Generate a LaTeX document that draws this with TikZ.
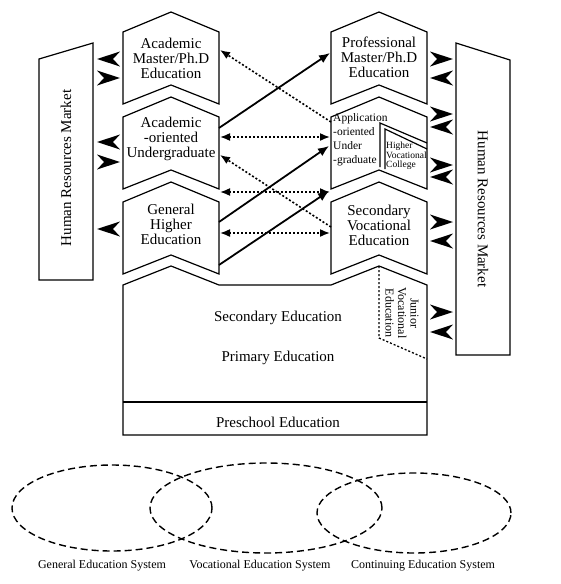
\documentclass[tikz,border=0pt]{standalone}
\usepackage{fontspec}
\setmainfont{Liberation Serif}
\usetikzlibrary{arrows.meta}

\begin{document}
\begin{tikzpicture}[
    x=1pt, y=-1pt,
    % Styles
    block/.style={line width=1.2pt, draw=black, line join=miter},        % education stages
    market/.style={line width=1.2pt, draw=black},                        % labour market
    flow/.style={line width=1.8pt, -{Latex[length=11pt,width=9pt]}},    % progression
    link/.style={line width=1.6pt, dash pattern=on 2pt off 2pt},         % transfer
    bigtip/.style={fill=black},                                          % supply / demand
    sysring/.style={line width=1.4pt, dash pattern=on 7pt off 4pt},     % systems
    txt/.style={font=\fontsize{15}{15}\selectfont, align=center, inner sep=0pt}
]
  \useasboundingbox (0,0) rectangle (560,584);

  % Human resources markets
  \draw[market] (39,59) -- (93,43) -- (93,280) -- (39,280) -- cycle;
  \node[txt, rotate=90] (hrmL) at (66,168) {Human Resources Market};
  \draw[market] (456,43) -- (510,60) -- (510,355) -- (456,355) -- cycle;
  \node[txt, rotate=-90] (hrmR) at (483,209) {Human Resources Market};

  % Chevron stages (left: general, right: vocational)
  \foreach \cx/\t in {171/32, 171/117, 171/202, 379/32, 379/117, 379/202} {
    \draw[block] ({\cx-48},\t) -- (\cx,{\t-20}) -- ({\cx+48},\t)
      -- ({\cx+48},{\t+72}) -- (\cx,{\t+53}) -- ({\cx-48},{\t+72}) -- cycle;
  }
  \node[txt] (acadMaster) at (171,58) {Academic\\Master/Ph.D\\Education};
  \node[txt] (acadUnder) at (171,139) {Academic\\-oriented\\Undergraduate};
  \node[txt] (genHigher) at (171,224) {General\\Higher\\Education};
  \node[txt] (profMaster) at (379,57) {Professional\\Master/Ph.D\\Education};
  \node[txt] (secVoc) at (379,225) {Secondary\\Vocational\\Education};

  % Application-oriented undergraduate with higher vocational college
  \draw[block] (380,167) -- (380,123) -- (427,143);
  \draw[block] (385,169) -- (385,129) -- (427,149);
  \node[anchor=west, align=left, inner sep=0pt, font=\fontsize{11.5}{14}\selectfont]
    (applUnder) at (333,140) {Application\\-oriented\\Under\\-graduate};
  \node[anchor=west, align=left, inner sep=0pt, font=\fontsize{9.5}{9.5}\selectfont]
    (highVoc) at (386,156) {Higher\\Vocational\\College};

  % Basic education block
  \draw[block] (123,285) -- (171,266) -- (219,285) -- (331,285) -- (379,266) -- (427,285)
    -- (427,435) -- (123,435) -- cycle;
  \draw[block] (123,402) -- (427,402);
  \node[txt] (secEdu) at (278,318) {Secondary Education};
  \node[txt] (primEdu) at (278,358) {Primary Education};
  \node[txt] (preEdu) at (278,422) {Preschool Education};

  % Junior vocational education
  \draw[link, line width=1.3pt] (379,266) -- (379,338) -- (427,359);
  \node[rotate=-90, align=center, inner sep=0pt, font=\fontsize{12}{12.5}\selectfont]
    (junVoc) at (402,313) {Junior\\Vocational\\Education};

  % Supply and demand with the markets (tip x / direction / y)
  \foreach \tx/\d/\y in {97/1/59, 97/1/142, 97/1/229, 120/-1/78, 120/-1/162,
                         453/-1/59, 453/-1/114, 453/-1/165, 453/-1/222, 453/-1/312,
                         430/1/78, 430/1/127, 430/1/177, 430/1/241, 430/1/332} {
    \fill[bigtip] (\tx,\y) -- ({\tx+\d*23},{\y-7.5}) -- ({\tx+\d*16},\y)
      -- ({\tx+\d*23},{\y+7.5}) -- cycle;
  }

  % Progression between the two tracks
  \draw[flow] (219,128) -- (330,53);
  \draw[flow] (219,222) -- (329,146);
  \draw[flow] (219,265) -- (329,191);

  % Transfer between the two tracks
  \draw[link, -{Latex[length=10pt,width=8pt]}] (331,122) -- (220,50);
  \draw[link, -{Latex[length=10pt,width=8pt]}] (331,227) -- (220,155);
  \foreach \y in {137, 192, 233}
    \draw[link, {Latex[length=10pt,width=8pt]}-{Latex[length=10pt,width=8pt]}] (220,\y) -- (330,\y);

  % Education systems
  \draw[sysring] (112,508) ellipse [x radius=100pt, y radius=43pt];
  \draw[sysring] (266,508) ellipse [x radius=116pt, y radius=45pt];
  \draw[sysring] (414,513) ellipse [x radius=97pt, y radius=40pt];
  \node[font=\fontsize{12}{12}\selectfont] (genSys) at (102,566) {General Education System};
  \node[font=\fontsize{12}{12}\selectfont] (vocSys) at (260,566) {Vocational Education System};
  \node[font=\fontsize{12}{12}\selectfont] (conSys) at (423,566) {Continuing Education System};

\end{tikzpicture}
\end{document}
